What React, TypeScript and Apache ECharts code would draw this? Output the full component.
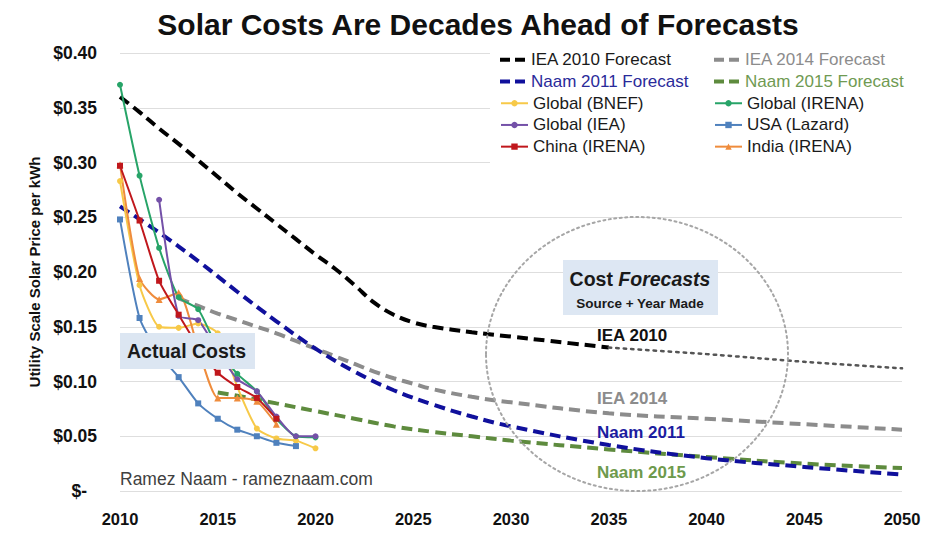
import React, { useEffect, useRef } from "react";
import * as echarts from "echarts";

// ---------- data ----------
const actualYears = [2010, 2011, 2012, 2013, 2014, 2015, 2016, 2017, 2018, 2019, 2020];
const globalBNEF = [0.283, 0.188, 0.150, 0.149, 0.153, 0.144, 0.095, 0.057, 0.048, 0.046, 0.039];
const globalIRENA = [0.371, 0.288, 0.222, 0.177, 0.166, 0.130, 0.107, 0.091, 0.066, 0.050, 0.049];
const globalIEA = [null, null, 0.266, 0.160, 0.156, 0.128, 0.102, 0.091, 0.068, 0.050, 0.050];
const usaLazard = [0.248, 0.158, 0.125, 0.104, 0.080, 0.066, 0.056, 0.050, 0.044, 0.041, null];
const chinaIRENA = [0.297, 0.247, 0.192, 0.161, 0.132, 0.108, 0.095, 0.085, 0.066, null, null];
const indiaIRENA = [0.298, 0.194, 0.175, 0.181, 0.130, 0.085, 0.085, 0.082, 0.061, null, null];

const iea2010Years = [2010, 2011, 2012, 2013, 2014, 2015, 2016, 2017, 2018, 2019, 2020, 2021, 2022, 2023, 2024, 2025, 2026, 2028, 2030, 2032, 2035];
const iea2010Vals = [0.360, 0.346, 0.331, 0.317, 0.302, 0.287, 0.272, 0.258, 0.244, 0.230, 0.216, 0.203, 0.188, 0.172, 0.161, 0.154, 0.150, 0.145, 0.141, 0.137, 0.131];
const iea2010LaterYears = [2035, 2040, 2045, 2050];
const iea2010LaterVals = [0.131, 0.125, 0.118, 0.112];

const iea2014Years = [2013, 2014, 2015, 2016, 2017, 2018, 2019, 2020, 2021, 2022, 2023, 2024, 2025, 2026, 2028, 2030, 2035, 2040, 2045, 2050];
const iea2014Vals = [0.176, 0.169, 0.162, 0.156, 0.150, 0.144, 0.137, 0.130, 0.123, 0.116, 0.109, 0.103, 0.098, 0.093, 0.086, 0.081, 0.071, 0.066, 0.061, 0.056];

const naam2011Years = [2010, 2012, 2014, 2016, 2018, 2020, 2022, 2024, 2026, 2028, 2030, 2035, 2040, 2045, 2050];
const naam2011Vals = [0.260, 0.236, 0.210, 0.182, 0.155, 0.130, 0.109, 0.092, 0.079, 0.068, 0.059, 0.042, 0.030, 0.022, 0.015];

const naam2015Years = [2015, 2016, 2018, 2020, 2022, 2024, 2026, 2028, 2030, 2035, 2040, 2045, 2050];
const naam2015Vals = [0.090, 0.087, 0.080, 0.073, 0.066, 0.059, 0.054, 0.050, 0.046, 0.038, 0.031, 0.025, 0.021];

const FONT = "'Liberation Sans', Arial, sans-serif";
const DASH_ICON = "path://M0,0h10v4h-10zM15,0h10v4h-10z";

const pair = (xs: number[], ys: (number | null)[]) => xs.map((x, i) => [x, ys[i]]);

export default function App() {
  const ref = useRef<HTMLDivElement>(null);

  useEffect(() => {
    if (!ref.current) return;
    const chart = echarts.init(ref.current, undefined, { renderer: "svg" });

    const dashed = (name: string, color: string, data: any[]) => ({
      name,
      type: "line",
      data,
      smooth: 0.4,
      showSymbol: false,
      symbol: "none",
      lineStyle: { color, width: 4, type: [11, 6] },
      itemStyle: { color },
      z: 2,
    });

    const actual = (name: string, color: string, symbol: string, vals: (number | null)[]) => ({
      name,
      type: "line",
      data: pair(actualYears, vals),
      smooth: 0.2,
      symbol,
      symbolSize: symbol === "triangle" ? 7 : 6,
      showSymbol: true,
      lineStyle: { color, width: 2 },
      itemStyle: { color },
      z: 3,
    });

    const ROW = 21.7;
    const legendBase = {
      orient: "vertical",
      padding: 0,
      itemGap: 0,
      itemWidth: 27,
      selectedMode: false,
      textStyle: { fontFamily: FONT, fontSize: 17, color: "#1a1a1a", lineHeight: ROW },
    };
    const dashLegend = { ...legendBase, top: 49, itemHeight: 4 };
    const markLegend = { ...legendBase, top: 49 + 2 * ROW, itemHeight: 8 };

    const option: any = {
      animation: false,
      backgroundColor: "#ffffff",
      title: {
        text: "Solar Costs Are Decades Ahead of Forecasts",
        left: 473,
        top: 4,
        textAlign: "center",
        textStyle: { fontFamily: FONT, fontSize: 30, fontWeight: "bold", color: "#111" },
      },
      grid: { left: 120, right: 33, top: 53, bottom: 42 },
      legend: [
        {
          ...dashLegend,
          left: 500,
          data: [
            { name: "IEA 2010 Forecast", icon: DASH_ICON },
            { name: "Naam 2011 Forecast", icon: DASH_ICON, textStyle: { color: "#2a2a9a" } },
          ],
        },
        {
          ...dashLegend,
          left: 714,
          data: [
            { name: "IEA 2014 Forecast", icon: DASH_ICON, textStyle: { color: "#8c8c8c" } },
            { name: "Naam 2015 Forecast", icon: DASH_ICON, textStyle: { color: "#6f9a52" } },
          ],
        },
        {
          ...markLegend,
          left: 500,
          data: [{ name: "Global (BNEF)" }, { name: "Global (IEA)" }, { name: "China (IRENA)" }],
        },
        {
          ...markLegend,
          left: 714,
          data: [{ name: "Global (IRENA)" }, { name: "USA (Lazard)" }, { name: "India (IRENA)" }],
        },
      ],
      xAxis: {
        type: "value",
        min: 2010,
        max: 2050,
        interval: 5,
        axisLine: { show: false },
        axisTick: { show: false },
        splitLine: { show: false },
        axisLabel: {
          margin: 19,
          fontFamily: FONT,
          fontSize: 16.5,
          fontWeight: "bold",
          color: "#111",
          formatter: (v: number) => String(v),
        },
      },
      yAxis: {
        type: "value",
        min: 0,
        max: 0.4,
        interval: 0.05,
        name: "Utility Scale Solar Price per kWh",
        nameLocation: "middle",
        nameRotate: 90,
        nameGap: 78,
        nameTextStyle: { fontFamily: FONT, fontSize: 15, fontWeight: "bold", color: "#111" },
        axisLine: { show: false },
        axisTick: { show: false },
        splitLine: { lineStyle: { color: "#dedede", width: 1 } },
        axisLabel: {
          margin: 23,
          fontFamily: FONT,
          fontSize: 17.5,
          fontWeight: "bold",
          color: "#111",
          formatter: (v: number) => (v === 0 ? "{d|$-}" : "$" + v.toFixed(2)),
          rich: {
            d: { fontFamily: FONT, fontSize: 17.5, fontWeight: "bold", color: "#111", padding: [0, 10, 0, 0] },
          },
        },
      },
      series: [
        dashed("IEA 2010 Forecast", "#000000", pair(iea2010Years, iea2010Vals)),
        {
          name: "IEA 2010 later",
          type: "line",
          data: pair(iea2010LaterYears, iea2010LaterVals),
          smooth: 0.4,
          symbol: "none",
          lineStyle: { color: "#555555", width: 2.5, type: [2.5, 5], cap: "round" },
          z: 2,
        },
        dashed("IEA 2014 Forecast", "#8c8c8c", pair(iea2014Years, iea2014Vals)),
        dashed("Naam 2015 Forecast", "#5e8b3e", pair(naam2015Years, naam2015Vals)),
        dashed("Naam 2011 Forecast", "#10109c", pair(naam2011Years, naam2011Vals)),
        actual("Global (BNEF)", "#f7c948", "circle", globalBNEF),
        actual("USA (Lazard)", "#4f81bd", "rect", usaLazard),
        actual("India (IRENA)", "#ef8c3c", "triangle", indiaIRENA),
        actual("Global (IRENA)", "#27a468", "circle", globalIRENA),
        actual("Global (IEA)", "#7451a8", "circle", globalIEA),
        actual("China (IRENA)", "#c0171c", "rect", chinaIRENA),
      ],
      graphic: [
        { type: "rect", z: 1, shape: { x: 490, y: 44, width: 430, height: 122 }, style: { fill: "#ffffff" } },
        {
          type: "ellipse",
          z: 4,
          shape: { cx: 637, cy: 354, rx: 151, ry: 137 },
          style: { fill: "none", stroke: "#a6a6a6", lineWidth: 2, lineDash: [2, 3.5], lineCap: "round" },
        },
        { type: "rect", z: 10, shape: { x: 120, y: 333, width: 135, height: 36 }, style: { fill: "#dce6f2" } },
        {
          type: "text",
          z: 11,
          x: 127,
          y: 351,
          style: {
            text: "Actual Costs",
            fontFamily: FONT,
            fontSize: 19.5,
            fontWeight: "bold",
            fill: "#1a1a1a",
            textVerticalAlign: "middle",
          },
        },
        { type: "rect", z: 10, shape: { x: 563, y: 260, width: 155, height: 55 }, style: { fill: "#dde7f3" } },
        {
          type: "text",
          z: 11,
          x: 640,
          y: 279,
          style: {
            text: "{a|Cost }{b|Forecasts}",
            textAlign: "center",
            textVerticalAlign: "middle",
            rich: {
              a: { fontFamily: FONT, fontSize: 19.5, fontWeight: "bold", fill: "#1a1a1a", color: "#1a1a1a" },
              b: { fontFamily: FONT, fontSize: 19.5, fontWeight: "bold", fontStyle: "italic", fill: "#1a1a1a", color: "#1a1a1a" },
            },
          },
        },
        {
          type: "text",
          z: 11,
          x: 640,
          y: 303,
          style: {
            text: "Source + Year Made",
            fontFamily: FONT,
            fontSize: 13.5,
            fontWeight: "bold",
            fill: "#1a1a1a",
            textAlign: "center",
            textVerticalAlign: "middle",
          },
        },
        {
          type: "text",
          z: 11,
          x: 597,
          y: 335,
          style: { text: "IEA 2010", fontFamily: FONT, fontSize: 17, fontWeight: "bold", fill: "#111", textVerticalAlign: "middle" },
        },
        {
          type: "text",
          z: 11,
          x: 597,
          y: 398,
          style: { text: "IEA 2014", fontFamily: FONT, fontSize: 17, fontWeight: "bold", fill: "#8c8c8c", textVerticalAlign: "middle" },
        },
        {
          type: "text",
          z: 11,
          x: 597,
          y: 432,
          style: { text: "Naam 2011", fontFamily: FONT, fontSize: 17, fontWeight: "bold", fill: "#1c1ca0", textVerticalAlign: "middle" },
        },
        {
          type: "text",
          z: 11,
          x: 597,
          y: 472,
          style: { text: "Naam 2015", fontFamily: FONT, fontSize: 17, fontWeight: "bold", fill: "#6e9a4c", textVerticalAlign: "middle" },
        },
        {
          type: "text",
          z: 11,
          x: 120,
          y: 479,
          style: {
            text: "Ramez Naam - rameznaam.com",
            fontFamily: FONT,
            fontSize: 17.5,
            fill: "#404040",
            textVerticalAlign: "middle",
          },
        },
      ],
    };

    chart.setOption(option);
    return () => chart.dispose();
  }, []);

  return (
    <div
      ref={ref}
      style={{ position: "fixed", left: 0, top: 0, width: 935, height: 533, background: "#fff" }}
    />
  );
}
